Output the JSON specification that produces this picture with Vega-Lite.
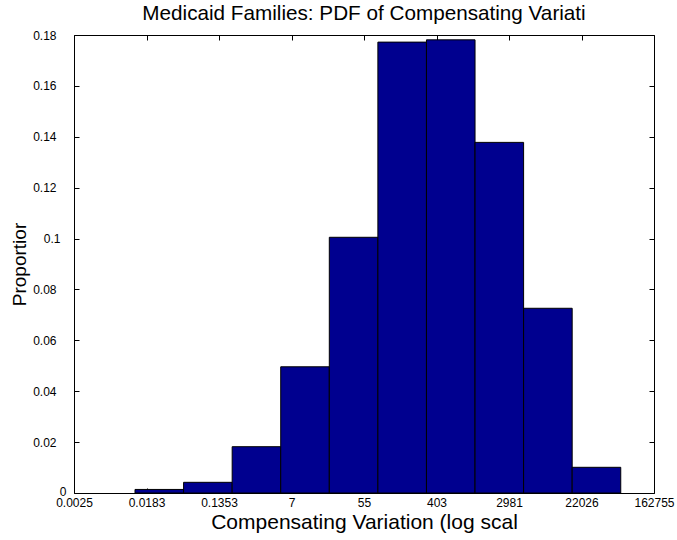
{
  "$schema": "https://vega.github.io/schema/vega-lite/v6.json",
  "width": 580,
  "height": 458,
  "autosize": {"type": "none"},
  "padding": {"left": 74, "top": 35, "right": 23, "bottom": 47},
  "background": "white",
  "title": {
    "text": "Medicaid Families: PDF of Compensating Variati",
    "font": "Liberation Sans",
    "fontSize": 20.7,
    "fontWeight": "normal",
    "color": "black",
    "offset": 4
  },
  "config": {
    "view": {"stroke": "black", "strokeWidth": 1},
    "axis": {
      "domain": false,
      "grid": false,
      "tickColor": "black",
      "tickSize": -5,
      "labelFont": "Liberation Sans",
      "labelFontSize": 12,
      "labelColor": "black",
      "titleFont": "Liberation Sans",
      "titleFontSize": 21,
      "titleFontWeight": "normal",
      "titleColor": "black"
    }
  },
  "data": {
    "values": [
      {"lo": -4.317, "hi": -2.977, "proportion": 0.0014},
      {"lo": -2.977, "hi": -1.637, "proportion": 0.0042},
      {"lo": -1.637, "hi": -0.297, "proportion": 0.0182},
      {"lo": -0.297, "hi": 1.043, "proportion": 0.0496},
      {"lo": 1.043, "hi": 2.383, "proportion": 0.1005},
      {"lo": 2.383, "hi": 3.723, "proportion": 0.1772},
      {"lo": 3.723, "hi": 5.063, "proportion": 0.1781},
      {"lo": 5.063, "hi": 6.403, "proportion": 0.1378},
      {"lo": 6.403, "hi": 7.743, "proportion": 0.0726},
      {"lo": 7.743, "hi": 9.083, "proportion": 0.0101}
    ]
  },
  "layer": [
    {
      "mark": {"type": "rect", "fill": "#00008F", "stroke": "black", "strokeWidth": 1},
      "encoding": {
        "x": {
          "field": "lo",
          "type": "quantitative",
          "scale": {"domain": [-6, 10], "nice": false, "zero": false},
          "axis": {
            "orient": "bottom",
            "values": [-6, -4, -2, 0, 2, 4, 6, 8, 10],
            "labelExpr": "['0.0025','0.0183','0.1353','7','55','403','2981','22026','162755'][(datum.value + 6) / 2]",
            "labelPadding": 9,
            "labelFlush": false,
            "labelOverlap": false,
            "title": "Compensating Variation (log scal",
            "titlePadding": 3
          }
        },
        "x2": {"field": "hi"},
        "y": {
          "field": "proportion",
          "type": "quantitative",
          "scale": {"domain": [0, 0.18], "nice": false},
          "axis": {
            "orient": "left",
            "values": [0, 0.02, 0.04, 0.06, 0.08, 0.1, 0.12, 0.14, 0.16, 0.18],
            "format": ".2~f",
            "labelPadding": {
              "condition": [
                {"test": "datum.value === 0", "value": 13},
                {"test": "datum.value === 0.1", "value": 19}
              ],
              "value": 23
            },
            "labelOffset": {
              "condition": {"test": "datum.value === 0", "value": -2},
              "value": 0
            },
            "labelFlush": false,
            "labelOverlap": false,
            "title": "Proportior",
            "titleFontSize": 19,
            "titlePadding": 3
          }
        },
        "y2": {"datum": 0}
      }
    },
    {
      "mark": {"type": "rect", "opacity": 0},
      "encoding": {
        "x": {
          "field": "lo",
          "type": "quantitative",
          "scale": {"domain": [-6, 10], "nice": false, "zero": false},
          "axis": {"orient": "top", "values": [-6, -4, -2, 0, 2, 4, 6, 8, 10], "labels": false, "title": null}
        },
        "x2": {"field": "hi"},
        "y": {
          "field": "proportion",
          "type": "quantitative",
          "scale": {"domain": [0, 0.18], "nice": false},
          "axis": {"orient": "right", "values": [0, 0.02, 0.04, 0.06, 0.08, 0.1, 0.12, 0.14, 0.16, 0.18], "labels": false, "title": null}
        },
        "y2": {"datum": 0}
      }
    }
  ],
  "resolve": {"axis": {"x": "independent", "y": "independent"}}
}
